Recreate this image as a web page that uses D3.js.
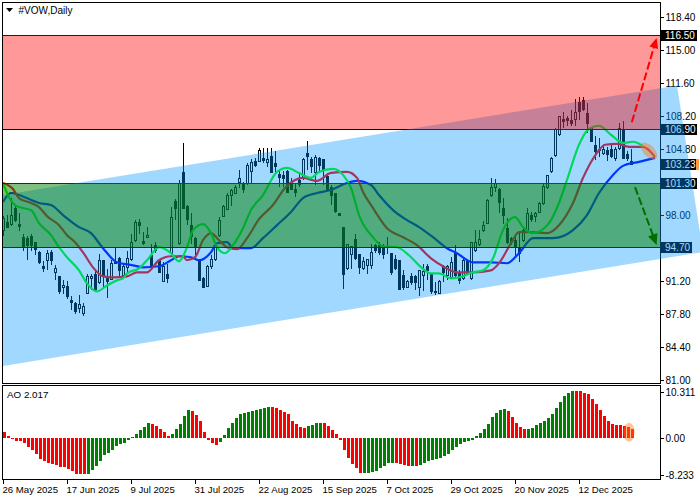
<!DOCTYPE html>
<html><head><meta charset="utf-8">
<script src="https://cdn.jsdelivr.net/npm/d3@7/dist/d3.min.js"></script>
<style>
html,body{margin:0;padding:0;background:#fff}
svg{display:block}
text{font-family:"Liberation Sans",Arial,sans-serif;font-size:10px;fill:#000}
</style></head><body><svg id="c" width="700" height="500"></svg>
<script>
const symbolTitle = "#VOW,Daily";
const aoTitle = "AO 2.017";
const dateLabels = ["26 May 2025","17 Jun 2025","9 Jul 2025","31 Jul 2025","22 Aug 2025","15 Sep 2025","7 Oct 2025","29 Oct 2025","20 Nov 2025","12 Dec 2025"];
const dateBars = [0,16,32,48,64,80,96,112,128,144];
const priceTicks = [118.4,115,111.6,108.2,104.8,101.4,98,94.6,91.2,87.8,84.4,81];
const aoTicks = [10.311,0,-8.233];
const aoTickLabels = ["10.311","0.00","-8.233"];
const priceTags = [116.5,106.9,103.23,101.3,94.7];

const highPrices = [97.91,98.02,99.74,99.05,98.26,96.05,95.85,96.05,95.26,94.33,
93.30,94.40,94.40,92.85,91.72,91.37,91.23,89.68,89.06,89.75,
88.96,91.99,91.92,92.27,93.99,93.37,92.51,93.37,94.75,93.71,
93.02,94.33,96.05,97.50,97.57,96.30,96.74,95.02,95.26,93.54,
93.20,93.02,98.88,99.64,101.63,105.42,99.05,98.19,95.78,93.54,
91.65,92.85,93.89,95.09,97.78,99.05,100.26,100.67,101.12,102.67,
101.46,103.36,103.77,103.87,104.91,104.91,104.91,104.91,104.56,102.67,
102.60,102.67,101.81,101.29,102.50,103.94,105.66,103.98,104.22,104.04,
103.77,102.32,101.12,100.26,98.19,96.74,95.09,94.85,96.12,94.06,
93.71,93.54,95.09,95.02,95.26,94.99,95.78,94.06,93.89,93.37,
92.34,91.30,92.06,91.82,92.40,93.02,93.02,91.99,91.13,91.30,
92.85,92.85,93.71,94.92,92.33,93.54,93.43,95.26,96.53,96.46,
97.43,99.63,101.80,101.70,100.77,99.74,97.67,95.78,95.77,96.19,
96.64,98.70,98.36,98.36,99.39,101.22,102.15,104.04,106.97,108.24,
108.59,108.17,108.79,109.97,110.17,110.17,109.55,107.07,106.11,105.94,
105.25,105.07,105.25,105.07,107.49,107.66,104.56,104.80];
const lowPrices = [95.85,96.64,96.88,97.33,96.36,94.33,93.37,94.33,93.88,92.96,
92.16,92.34,92.85,91.30,89.86,89.92,89.41,88.20,87.86,87.93,
87.62,89.92,90.34,90.27,90.96,90.61,89.48,91.30,93.02,91.78,
91.65,91.99,93.30,95.26,96.05,94.92,95.61,92.34,94.13,92.06,
91.13,91.03,93.89,97.50,94.92,98.60,96.98,95.09,93.89,91.23,
90.54,90.61,92.51,93.30,95.78,97.78,98.53,98.95,100.19,100.77,
100.33,101.12,101.29,103.01,103.46,103.36,103.01,102.32,102.39,100.95,
100.95,100.26,100.60,99.91,100.95,101.63,102.67,102.32,101.12,102.32,
101.12,100.60,99.05,98.26,97.91,90.37,92.40,92.51,93.37,91.92,
92.40,91.99,92.44,94.13,93.89,93.54,94.06,91.82,92.34,90.34,
90.34,90.54,90.79,90.27,89.68,90.20,91.30,89.92,89.75,89.86,
91.13,91.30,91.47,91.47,90.89,91.30,91.82,91.30,94.23,94.81,
96.29,97.09,99.91,100.43,98.19,97.09,95.09,94.92,93.71,93.19,
95.26,96.29,97.33,97.33,98.19,99.05,100.67,102.32,104.04,106.11,
106.97,107.14,107.14,107.14,107.83,108.69,106.45,105.49,103.70,104.04,
104.21,103.53,103.87,103.53,104.73,103.77,103.63,103.23];
const openPrices = [96.47,97.23,97.09,98.71,97.09,95.71,95.61,95.85,95.19,94.16,
92.68,93.37,94.16,92.16,91.72,90.54,90.68,89.24,88.89,88.37,
87.93,89.99,91.47,91.92,91.13,93.30,91.47,91.40,93.20,93.54,
91.82,92.61,93.44,95.37,97.23,95.26,95.68,93.89,94.85,93.37,
91.23,91.92,94.06,99.40,95.09,102.43,98.95,96.98,95.61,93.37,
91.47,90.68,92.75,93.44,95.88,97.91,98.64,100.08,100.19,101.39,
101.12,101.22,102.50,103.49,103.53,103.87,103.42,104.04,103.29,102.15,
102.05,102.50,101.12,100.60,101.57,101.81,104.32,103.77,102.43,103.84,
103.70,101.98,100.88,100.19,98.19,96.74,92.51,93.95,95.54,93.99,
92.51,92.78,92.78,94.92,94.85,94.64,94.64,94.06,93.47,93.37,
91.82,90.61,91.72,91.72,90.61,91.75,92.75,91.99,90.13,89.92,
92.61,91.75,91.57,94.06,92.16,91.47,93.30,91.47,94.40,95.02,
96.46,97.15,99.98,100.87,100.67,98.70,96.64,95.60,95.36,94.57,
95.43,96.46,98.02,97.91,98.29,99.22,100.87,102.49,104.11,106.28,
107.83,108.00,107.73,107.83,109.55,109.79,108.45,106.97,105.14,104.80,
104.39,104.63,104.73,103.87,104.90,106.87,104.28,103.50];
const closePrices = [97.67,96.71,98.02,97.50,96.88,94.81,94.92,94.85,94.47,93.09,
92.47,94.06,93.30,92.51,90.17,90.79,89.65,89.06,88.13,88.79,
88.65,91.72,91.72,90.34,93.37,91.65,91.20,93.02,93.02,92.27,
92.68,93.54,95.19,97.26,96.98,95.09,95.92,92.75,94.40,92.16,
92.68,91.54,97.78,98.71,101.29,98.71,97.57,95.78,94.75,91.30,
90.61,92.75,93.44,94.92,97.50,98.88,100.08,100.50,100.88,101.81,
100.70,103.08,103.46,103.08,104.63,103.63,103.70,102.39,103.01,101.88,
101.81,100.36,100.70,100.39,101.12,103.77,104.04,103.01,103.98,103.08,
102.67,100.70,100.08,98.36,97.95,91.92,94.99,94.75,93.54,92.58,
93.27,93.44,94.16,94.40,94.13,93.99,94.75,92.16,92.51,90.37,
90.54,91.20,91.13,91.03,92.34,92.23,92.34,90.17,90.03,91.20,
92.16,92.68,93.09,91.82,91.30,93.30,91.99,95.16,95.16,95.54,
96.91,99.56,100.87,101.29,99.29,98.02,95.16,95.19,94.74,94.05,
96.46,98.19,97.57,98.19,99.22,100.94,102.04,103.87,106.87,108.11,
107.66,107.76,107.49,108.52,108.69,108.93,107.49,105.59,104.56,104.63,
104.73,104.21,104.04,104.73,106.97,103.87,103.80,103.23];

const blueBars = [0,2,4,9,12,15,19,22,25,28.5,32.5,35,39,42,44,47,49,52,53.5,56,57.5,62,65,68.5,72,75,78.5,82,86,88.5,92,94,97.5,101,104,107.5,111,113.5,117.5,122,126,129,132.5,137.5,142.5,146,149,152.5,155,159,163];
const blueLine = [99.36,100.29,100.08,99.26,99.05,98.02,96.78,96.16,94.61,93.16,92.85,92.64,92.75,93.37,93.78,93.68,93.37,94.19,95.12,95.23,94.61,94.61,95.64,96.98,98.33,99.77,100.29,100.60,101.32,101.53,101.11,100.08,98.53,97.50,96.78,95.74,94.61,94.09,93.16,93.16,93.06,94.09,95.64,95.64,96.47,98.02,100.29,102.15,103.08,103.49,103.90];
const redBars = [0,2.5,4,7,9,11,14,16,18,20,22.5,25,27.5,31,33.5,36,39,42,45,46,48,50,52,54,56,58.5,61,64,67.5,70.5,73,75,78.5,82,86,88.5,90,92.5,96,100,103.5,107,110,113.5,117.5,122,124,127,129,131.5,136,139,142.5,145,148.5,150.5,153.5,156.5,160,163];
const redLine = [101.32,100.70,99.77,99.26,98.84,97.91,96.98,95.95,95.23,94.19,92.64,91.71,91.61,91.71,92.13,92.13,93.37,93.78,93.78,93.37,93.68,95.43,96.16,95.43,94.71,94.50,95.64,97.60,99.05,100.80,101.63,101.84,101.53,102.35,102.46,101.84,100.39,98.74,96.67,95.74,94.92,93.57,92.75,92.13,92.13,92.33,93.06,95.12,96.26,96.26,96.16,96.98,99.26,101.84,104.42,105.25,105.35,105.04,105.04,104.01];
const greenBars = [0,1,3,5,7,9,12,14,16,19,21,23.5,26,28.5,30,31,34,36,39,42,44,46,47.5,50,52,53.5,55.5,57.5,60,62,65,68.5,71,74,77,79,82.5,85,87,89,92.5,95,98.5,101.5,104,107,109,112,114,117.5,120,122.5,125,128,130,132.5,136.5,139,141,144,146.5,149,152,155,157.5,160];
const greenLine = [101.32,100.29,99.05,98.74,98.53,97.19,95.95,94.71,93.68,92.33,90.99,90.16,90.78,91.30,91.51,92.02,92.54,93.37,94.71,94.09,93.26,94.71,96.47,97.09,96.16,94.71,94.09,94.92,96.67,98.53,100.08,102.46,102.87,102.35,101.84,102.46,102.77,102.15,100.80,98.02,95.74,94.81,94.71,93.88,92.85,92.02,92.02,91.51,91.61,92.13,92.33,93.57,96.47,97.81,96.78,96.16,97.19,99.26,101.63,105.25,106.90,107.21,106.28,105.45,105.56,105.14];

const aoValues = [1.34,0.45,-0.22,-0.67,-0.67,-1.04,-1.94,-2.69,-3.58,-4.70,
-5.07,-5.52,-5.82,-5.97,-6.49,-6.49,-6.87,-7.46,-8.06,-8.13,
-8.13,-8.06,-7.16,-6.27,-5.15,-3.81,-3.36,-2.69,-1.87,-1.34,
-1.12,-0.52,0.15,0.90,1.79,2.46,3.36,3.13,2.69,2.01,
1.34,0.45,0.90,2.01,3.13,4.93,6.27,6.04,5.22,3.81,
1.34,-0.37,-1.19,-1.57,-0.90,0.67,2.24,3.43,4.48,5.37,
5.52,5.82,6.04,6.27,6.49,6.72,6.94,6.93,6.72,6.27,
5.82,5.37,3.81,3.13,2.46,2.24,2.69,2.91,3.36,3.37,
3.36,2.69,1.79,0.90,-0.37,-2.69,-4.48,-5.82,-6.72,-7.84,
-7.83,-7.76,-7.61,-7.31,-6.72,-6.27,-5.60,-5.59,-5.67,-5.82,
-6.04,-6.28,-6.26,-6.30,-6.04,-5.60,-5.15,-4.93,-4.70,-4.48,
-4.03,-3.58,-2.69,-2.01,-1.34,-0.90,-0.67,-0.45,0.45,1.12,
2.01,3.13,4.70,5.60,6.27,6.49,6.04,4.70,3.36,2.46,
2.01,2.02,2.24,2.91,3.36,3.81,4.48,5.37,6.72,8.06,
9.40,10.07,10.55,10.52,10.50,10.07,9.85,8.73,7.61,6.27,
4.93,3.81,3.13,2.91,2.90,2.69,2.46,2.017];

// channel corners, drawn lines and markers, all in bar / price space
const channelBars = [0,168.5,175,0];
const channelPrices = [100.08,111.35,94.22,82.49];
const upArrowBars = [157.2,163.4];
const upArrowPrices = [107.56,116.23];
const downArrowBars = [158,163.4];
const downArrowPrices = [100.9,94.94];
const markerBar = 161.5, markerPrice = 104.61;
const aoMarkerBar = 156.5, aoMarkerValue = 1.3;

const plotL=2, plotR=660, mainT=2, mainB=383, aoT=385, aoB=479;
const x = d3.scaleLinear().domain([0,157]).range([3,631]);
const y = d3.scaleLinear().domain([80.74,119.94]).range([mainB,mainT]);
const ya = d3.scaleLinear().domain([-9.2,11.9]).range([aoB,aoT]);
const svg = d3.select("#c");

svg.append("defs").append("clipPath").attr("id","plot").append("rect")
  .attr("x",plotL).attr("y",mainT).attr("width",plotR-plotL).attr("height",mainB-mainT);

const base = svg.append("g");
// candles
const bars = d3.range(highPrices.length);
const cg = base.append("g").attr("shape-rendering","crispEdges");
cg.selectAll("line").data(bars).join("line")
  .attr("x1",i=>x(i)+.5).attr("x2",i=>x(i)+.5)
  .attr("y1",i=>y(highPrices[i])).attr("y2",i=>y(lowPrices[i]))
  .attr("stroke","#000");
cg.selectAll("rect").data(bars).join("rect")
  .attr("x",i=>x(i)-.5).attr("width",2)
  .attr("y",i=>y(Math.max(openPrices[i],closePrices[i])))
  .attr("height",i=>Math.max(1,Math.abs(y(openPrices[i])-y(closePrices[i]))))
  .attr("fill",i=>closePrices[i]>=openPrices[i]?"#fff":"#000")
  .attr("stroke","#000");

// moving lines
const lineOf = (xs,ys)=>d3.line().x((d,i)=>x(xs[i])).y((d,i)=>y(ys[i])).curve(d3.curveMonotoneX)(ys);
[[blueBars,blueLine,"#0000ff"],[redBars,redLine,"#ff0000"],[greenBars,greenLine,"#00ff00"]].forEach(([b,v,c])=>{
  base.append("path").attr("d",lineOf(b,v)).attr("fill","none").attr("stroke",c).attr("stroke-width",2.2)
    .attr("clip-path","url(#plot)");
});

// level lines
base.append("g").attr("shape-rendering","crispEdges").selectAll("line").data([116.5,106.9,101.3,94.7]).join("line")
  .attr("x1",plotL).attr("x2",plotR).attr("y1",d=>Math.round(y(d))+.5).attr("y2",d=>Math.round(y(d))+.5)
  .attr("stroke","#000");

// frames
const frame = base.append("g").attr("shape-rendering","crispEdges").attr("fill","none").attr("stroke","#000");
frame.append("rect").attr("x",plotL+.5).attr("y",mainT+.5).attr("width",plotR-plotL).attr("height",mainB-mainT);
frame.append("rect").attr("x",plotL+.5).attr("y",aoT+.5).attr("width",plotR-plotL).attr("height",aoB-aoT);

// price axis
const priceAxis = d3.axisRight(y).tickValues(priceTicks).tickFormat(d3.format(".2f")).tickSize(3).tickPadding(2);
const pa = base.append("g").attr("transform",`translate(${plotR+.5},0)`).call(priceAxis);
pa.select(".domain").remove();
pa.selectAll("line").attr("shape-rendering","crispEdges").attr("stroke","#000");
pa.selectAll("text").attr("dy","0.35em").style("font-size","10px");

// tags
const tags = base.append("g");
tags.selectAll("rect").data(priceTags).join("rect")
  .attr("x",plotR+1).attr("width",d=>d>=100?36:31).attr("y",d=>Math.round(y(d))-5).attr("height",11).attr("fill","#000");
tags.selectAll("text").data(priceTags).join("text")
  .attr("x",plotR+5).attr("y",d=>Math.round(y(d))+4).text(d=>d3.format(".2f")(d)).style("fill","#fff");
tags.append("rect").attr("x",plotR+36).attr("width",3).attr("y",Math.round(y(103.23))-5).attr("height",11).attr("fill","#ff9a40");

// AO
const ag = svg.append("g").attr("shape-rendering","crispEdges");
ag.selectAll("rect").data(aoValues).join("rect")
  .attr("x",(d,i)=>x(i)).attr("width",3)
  .attr("y",d=>Math.min(ya(d),ya(0))).attr("height",d=>Math.abs(ya(d)-ya(0)))
  .attr("fill",(d,i)=> i>0 && d>aoValues[i-1] ? "#008000" : "#ff0000");

const aoAxis = d3.axisRight(ya).tickValues(aoTicks).tickFormat((d,i)=>aoTickLabels[i]).tickSize(3).tickPadding(2);
const aa = svg.append("g").attr("transform",`translate(${plotR+.5},0)`).call(aoAxis);
aa.select(".domain").remove();
aa.selectAll("line").attr("shape-rendering","crispEdges").attr("stroke","#000");
aa.selectAll("text").attr("dy","0.35em").style("font-size","10px");

// date axis
const dateAxis = d3.axisBottom(x).tickValues(dateBars).tickFormat((d,i)=>dateLabels[i]).tickSize(4).tickPadding(3);
const da = svg.append("g").attr("transform",`translate(0,${aoB+.5})`).call(dateAxis);
da.select(".domain").remove();
da.selectAll("line").attr("shape-rendering","crispEdges").attr("stroke","#000");
da.selectAll("text").attr("text-anchor","start").attr("dx","-1").style("font-size","9.6px");

// channel overlay
svg.append("path").attr("d",d3.line()(channelBars.map((b,i)=>[x(b),y(channelPrices[i])]))+"Z")
  .attr("fill","rgb(0,148,255)").attr("fill-opacity",.37);

// zone overlays
const zones = svg.append("g").attr("clip-path","url(#plot)").attr("shape-rendering","crispEdges");
zones.append("rect").attr("x",x(0)).attr("width",plotR-x(0)).attr("y",y(116.5)).attr("height",y(106.9)-y(116.5))
  .attr("fill","rgb(255,0,0)").attr("fill-opacity",.4);
zones.append("rect").attr("x",x(0)).attr("width",plotR-x(0)).attr("y",y(101.3)).attr("height",y(94.7)-y(101.3))
  .attr("fill","rgb(0,128,0)").attr("fill-opacity",.5);

// arrows
function arrow(xs,ys,c,len,w){
  const x0=x(xs[0]),y0=y(ys[0]),x1=x(xs[1]),y1=y(ys[1]);
  const a=Math.atan2(y1-y0,x1-x0);
  svg.append("line").attr("x1",x0).attr("y1",y0).attr("x2",x1-Math.cos(a)*len*.8).attr("y2",y1-Math.sin(a)*len*.8)
    .attr("stroke",c).attr("stroke-width",2).attr("stroke-dasharray","8,3");
  const bx=x1-Math.cos(a)*len,by=y1-Math.sin(a)*len;
  svg.append("path").attr("fill",c).attr("d",d3.line()([[x1,y1],[bx-Math.sin(a)*w,by+Math.cos(a)*w],[bx+Math.sin(a)*w,by-Math.cos(a)*w]])+"Z");
}
arrow(upArrowBars,upArrowPrices,"#ff0000",10,4.5);
arrow(downArrowBars,downArrowPrices,"#006e00",11,5);

// markers
svg.append("ellipse").attr("rx",10.5).attr("ry",5.5)
  .attr("transform",`translate(${x(markerBar)},${y(markerPrice)}) rotate(45)`)
  .attr("fill","#ff7a14").attr("fill-opacity",.45);
svg.append("ellipse").attr("cx",x(aoMarkerBar)).attr("cy",ya(aoMarkerValue)).attr("rx",5.5).attr("ry",9.5)
  .attr("fill","#ff7a14").attr("fill-opacity",.45);

// titles
svg.append("path").attr("fill","#000").attr("d",d3.line()([[6,8],[13,8],[9.5,12]])+"Z");
svg.append("text").attr("x",18.5).attr("y",14).text(symbolTitle).style("font-size","10px");
svg.append("text").attr("x",7).attr("y",398).text(aoTitle).style("font-size","9.8px");
</script></body></html>
